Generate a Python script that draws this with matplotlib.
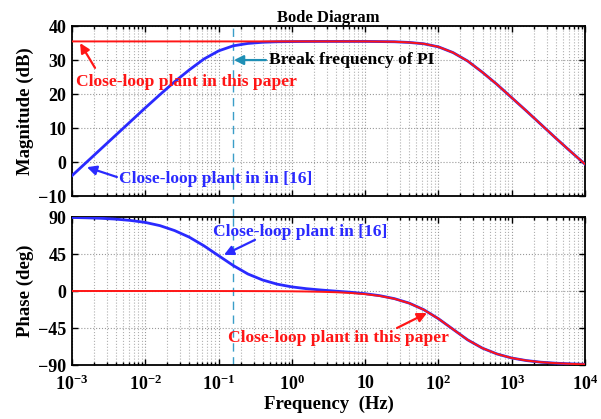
import numpy as np
import matplotlib
matplotlib.use("Agg")
import matplotlib.pyplot as plt

# ---- data ----
log_freq = [-3.0, -2.8, -2.6, -2.4, -2.2, -2.0, -1.8, -1.6, -1.4, -1.2, -1.0,
            -0.8, -0.6, -0.4, -0.2, 0.0, 0.2, 0.4, 0.6, 0.8, 1.0, 1.2, 1.4,
            1.6, 1.8, 2.0, 2.2, 2.4, 2.6, 2.8, 3.0, 3.2, 3.4, 3.6, 3.8, 4.0]

mag_this_paper = [35.6, 35.6, 35.6, 35.6, 35.6, 35.6, 35.6, 35.6, 35.6, 35.6, 35.6,
                  35.6, 35.6, 35.6, 35.6, 35.6, 35.6, 35.6, 35.6, 35.6, 35.6, 35.55, 35.5,
                  35.3, 34.9, 34.0, 32.3, 29.8, 26.5, 22.9, 19.0, 15.1, 11.1, 7.1, 3.2, -0.6]
mag_ref16 = [-4.0, 0.0, 4.0, 8.0, 12.0, 16.0, 19.9, 23.7, 27.2, 30.4, 32.8,
             34.3, 35.0, 35.35, 35.5, 35.55, 35.58, 35.6, 35.6, 35.6, 35.6, 35.55, 35.5,
             35.3, 34.9, 34.0, 32.3, 29.8, 26.5, 22.9, 19.0, 15.1, 11.1, 7.1, 3.2, -0.6]

phase_this_paper = [0.0, 0.0, 0.0, 0.0, 0.0, 0.0, 0.0, 0.0, 0.0, 0.0, -0.05,
                    -0.06, -0.1, -0.15, -0.24, -0.38, -0.6, -0.96, -1.5, -2.4, -3.8, -6.0, -9.5,
                    -14.8, -22.8, -33.7, -46.6, -59.5, -69.5, -76.6, -81.5, -84.6, -86.6, -87.8, -88.6, -89.2]
phase_ref16 = [89.4, 89.0, 88.4, 87.4, 85.8, 83.4, 79.5, 73.5, 65.5, 55.0, 43.0,
               31.0, 20.7, 13.4, 8.3, 5.0, 2.8, 1.2, -0.2, -1.5, -3.3, -5.7, -9.3,
               -14.7, -22.7, -33.7, -46.6, -59.5, -69.5, -76.6, -81.5, -84.6, -86.6, -87.8, -88.6, -89.2]

break_freq = 0.157

freq = [10 ** v for v in log_freq]

# ---- style ----
plt.rcParams['font.family'] = ['Liberation Serif', 'DejaVu Serif']
plt.rcParams['font.weight'] = 'bold'
plt.rcParams['mathtext.fontset'] = 'custom'
plt.rcParams['mathtext.rm'] = 'Liberation Serif:bold'
plt.rcParams['mathtext.bf'] = 'Liberation Serif:bold'
plt.rcParams['mathtext.it'] = 'Liberation Serif:bold'

BLUE = '#2a2aff'
RED = '#ff1515'
CYAN = '#3a9ec8'
FS = 12.6
TFS = 13

W, H = 601, 419
fig = plt.figure(figsize=(W / 100, H / 100), dpi=100)
ax1 = fig.add_axes([72 / W, 1 - 196 / H, (585 - 72) / W, (196 - 26.5) / H])
ax2 = fig.add_axes([72 / W, 1 - 365 / H, (585 - 72) / W, (365 - 217) / H])

xticks = [1e-3, 1e-2, 1e-1, 1e0, 1e1, 1e2, 1e3, 1e4]
xticklabels = [r'$10^{-3}$', r'$10^{-2}$', r'$10^{-1}$', r'$10^{0}$', '10',
               r'$10^{2}$', r'$10^{3}$', r'$10^{4}$']

for ax in (ax1, ax2):
    ax.set_xscale('log')
    ax.set_xlim(1e-3, 1e4)
    ax.grid(True, which='major', axis='both', linestyle=':', color='#9a9a9a', linewidth=0.8)
    ax.grid(True, which='minor', axis='x', linestyle=':', color='#b0b0b0', linewidth=0.8)
    ax.tick_params(direction='in', top=True, right=True, which='both', labelsize=TFS,
                   length=4, width=1)
    ax.tick_params(which='minor', length=2.5)
    ax.tick_params(axis='y', pad=4)
    for s in ax.spines.values():
        s.set_linewidth(1.3)
    ax.set_xticks(xticks)

ax1.plot(freq, mag_ref16, color=BLUE, lw=2.0, zorder=3)
ax1.plot(freq, mag_this_paper, color=RED, lw=1.4, zorder=4)
ax1.set_ylim(-10, 40)
ax1.set_yticks([-10, 0, 10, 20, 30, 40])
ax1.set_xticklabels([])
ax1.set_ylabel('Magnitude (dB)', fontsize=TFS + 0.5, fontweight='bold', labelpad=3)
ax1.set_title('Bode Diagram', fontsize=12, fontweight='bold', pad=3)

ax2.plot(freq, phase_ref16, color=BLUE, lw=2.0, zorder=3)
ax2.plot(freq, phase_this_paper, color=RED, lw=1.4, zorder=4)
ax2.set_ylim(-90, 90)
ax2.set_yticks([-90, -45, 0, 45, 90])
ax2.set_xticklabels(xticklabels)
ax2.tick_params(axis='x', pad=7)
ax2.set_ylabel('Phase (deg)', fontsize=TFS + 0.5, fontweight='bold', labelpad=3)
ax2.set_xlabel('Frequency  (Hz)', fontsize=TFS + 0.5, fontweight='bold', labelpad=1)

# break frequency dashed line spanning both axes
gap = (217 - 196) / (196 - 26.5)
ax1.axvline(break_freq, ymin=-gap, ymax=1, color=CYAN, lw=1.0, ls=(0, (6, 4)), clip_on=False, zorder=2)
ax2.axvline(break_freq, color=CYAN, lw=1.0, ls=(0, (6, 4)), zorder=2)

arrow = dict(arrowstyle='-|>', lw=1.6, mutation_scale=14, shrinkA=0, shrinkB=0)

# annotations (top)
ax1.annotate('', xy=(0.00129, 35.1), xytext=(0.00206, 27.8),
             arrowprops=dict(arrow, color=RED))
ax1.text(0.00113, 23.7, 'Close-loop plant in this paper', color=RED, fontsize=FS,
         fontweight='bold', ha='left', va='center')
ax1.annotate('', xy=(0.0016, -1.5), xytext=(0.0041, -4.4),
             arrowprops=dict(arrow, color=BLUE))
ax1.text(0.00441, -5.0, 'Close-loop plant in in [16]', color=BLUE, fontsize=FS,
         fontweight='bold', ha='left', va='center')
ax1.annotate('', xy=(0.162, 30.1), xytext=(0.443, 30.1),
             arrowprops=dict(arrow, color='#1f8fb5'))
ax1.text(0.491, 30.1, 'Break frequency of PI', color='black', fontsize=FS,
         fontweight='bold', ha='left', va='center')

# annotations (bottom)
ax2.annotate('', xy=(0.1186, 43.9), xytext=(0.314, 62.2),
             arrowprops=dict(arrow, color=BLUE))
ax2.text(0.0851, 72.3, 'Close-loop plant in [16]', color=BLUE, fontsize=FS,
         fontweight='bold', ha='left', va='center')
ax2.annotate('', xy=(69.7, -26.8), xytext=(27.2, -45.0),
             arrowprops=dict(arrow, color=RED))
ax2.text(0.133, -57.3, 'Close-loop plant in this paper', color=RED, fontsize=FS,
         fontweight='bold', ha='left', va='center')

fig.savefig('out.png', dpi=100)
